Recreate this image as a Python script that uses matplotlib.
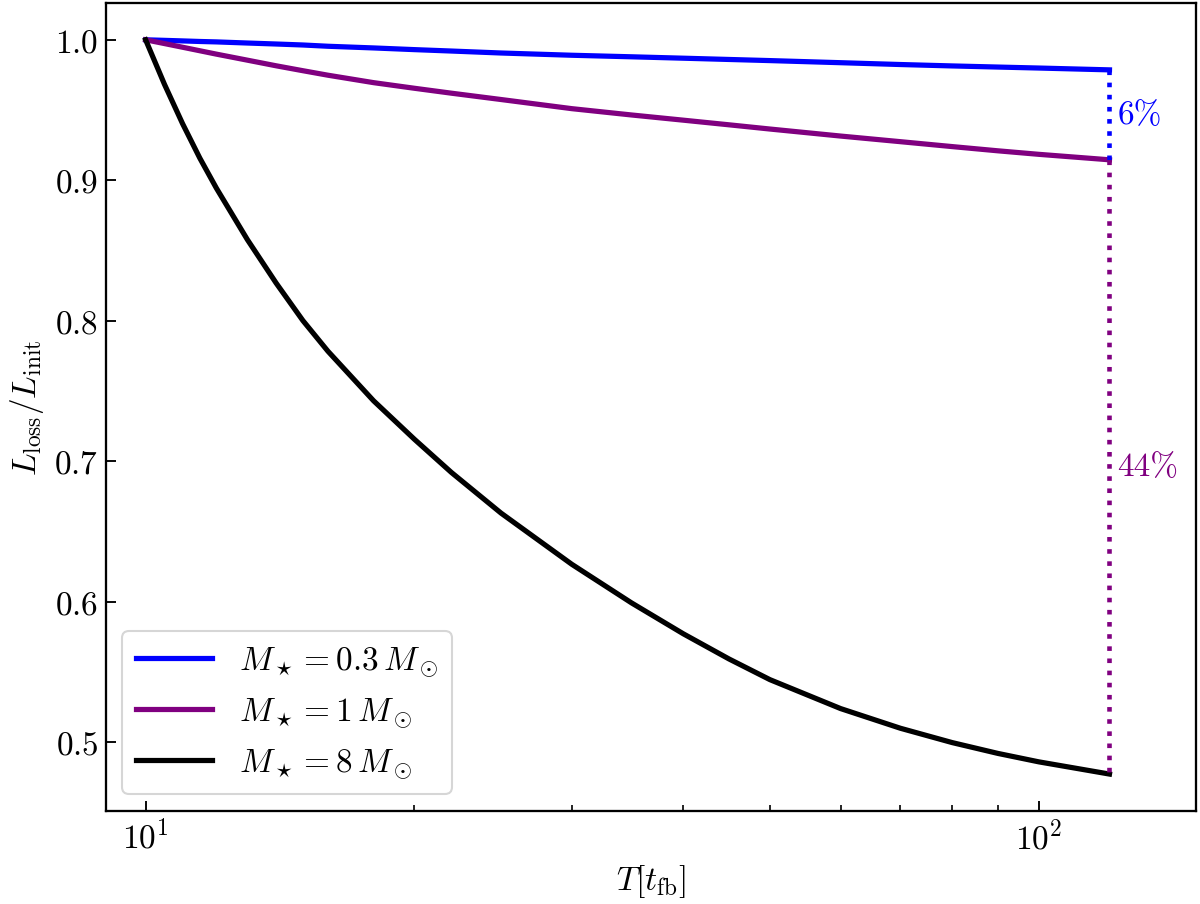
import numpy as np
import matplotlib
matplotlib.use("Agg")
import matplotlib.pyplot as plt

# --- values ---
T = [10, 10.5, 11, 11.5, 12, 13, 14, 15, 16, 18, 20, 22, 25, 30, 35, 40,
     45, 50, 60, 70, 80, 90, 100, 120]
loss_03 = [1.0, 0.9996, 0.9992, 0.9988, 0.9985, 0.9977, 0.997, 0.9963,
           0.9954, 0.9942, 0.993, 0.992, 0.9906, 0.989, 0.9879, 0.9869,
           0.986, 0.9852, 0.9837, 0.9824, 0.9814, 0.9806, 0.9799, 0.9786]
loss_1 = [1.0, 0.9973, 0.9947, 0.9922, 0.9898, 0.9855, 0.9815, 0.978,
          0.9748, 0.9695, 0.9655, 0.962, 0.9575, 0.951, 0.9465, 0.9428,
          0.9395, 0.9365, 0.9315, 0.9275, 0.924, 0.921, 0.9185, 0.9146]
loss_8 = [1.0, 0.9682, 0.9403, 0.9158, 0.8945, 0.8578, 0.8269, 0.8002,
          0.7784, 0.7431, 0.7157, 0.6921, 0.6632, 0.6268, 0.5993, 0.5773,
          0.5594, 0.5447, 0.5241, 0.5101, 0.4999, 0.4922, 0.4862, 0.4775]
labels = [r'$M_\star = 0.3\,M_\odot$', r'$M_\star = 1\,M_\odot$',
          r'$M_\star = 8\,M_\odot$']
colors = ['blue', 'purple', 'black']
pct_text = ['6%', '44%']

plt.rcParams.update({
    'font.family': 'serif',
    'font.serif': ['cmr10'],
    'mathtext.fontset': 'cm',
    'axes.unicode_minus': False,
    'axes.formatter.use_mathtext': True,
    'font.size': 16,
})

fig = plt.figure(figsize=(8, 6.0333), dpi=150)
ax = fig.add_axes([0.088, 0.103, 0.9087, 0.8925])

for y, lab, c in zip([loss_03, loss_1, loss_8], labels, colors):
    ax.plot(T, y, color=c, lw=2.5, label=lab)

# dotted gaps at the last time
t_end = T[-1]
ax.plot([t_end, t_end], [loss_03[-1], loss_1[-1]], color='blue', ls=':', lw=2.2)
ax.plot([t_end, t_end], [loss_1[-1], loss_8[-1]], color='purple', ls=':', lw=2.2)
ax.text(t_end * 1.02, (loss_03[-1] + loss_1[-1]) / 2, pct_text[0],
        color='blue', va='center', ha='left', fontsize=16)
ax.text(t_end * 1.02, (loss_1[-1] + loss_8[-1]) / 2, pct_text[1],
        color='purple', va='center', ha='left', fontsize=16)

ax.set_xscale('log')
ax.set_xlim(9.02, 150)
ax.set_xlabel(r'$T[t_{\rm fb}]$')
ax.set_ylabel(r'$L_{\rm loss}/L_{\rm init}$')
ax.tick_params(which='major', direction='in', length=5, width=0.9)
ax.tick_params(which='minor', direction='in', length=3, width=0.8)
for s in ax.spines.values():
    s.set_linewidth(1.1)

ax.legend(loc='lower left', handlelength=2.3, fontsize=16)

fig.savefig('out.png', dpi=150)
